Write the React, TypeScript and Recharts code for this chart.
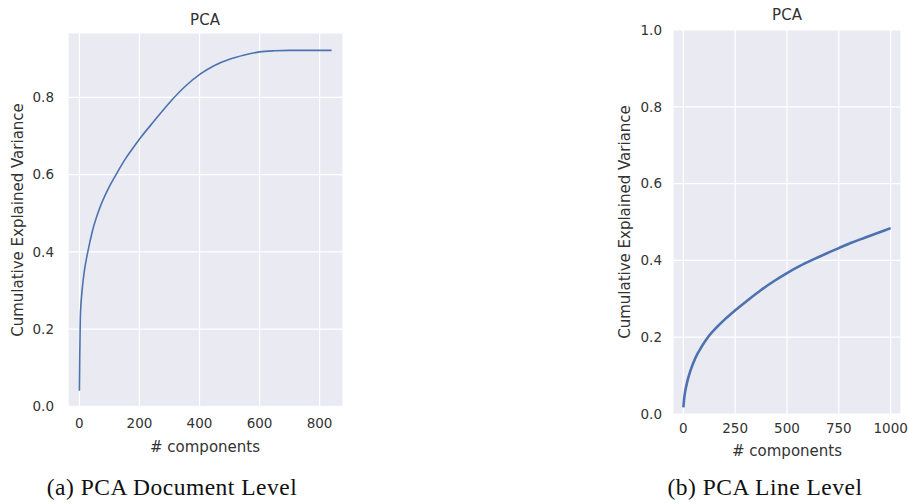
import React from 'react';
import { LineChart, Line, XAxis, YAxis, CartesianGrid } from 'recharts';

// (a) document level: cumulative explained variance vs # components
const docComponents = [0, 1, 3, 9, 17, 28, 44, 67, 94, 122, 150, 172, 201, 250, 303, 350, 403, 450, 500, 550, 600, 650, 700, 760, 840];
const docVariance = [0.04, 0.12, 0.23, 0.3, 0.353, 0.4, 0.456, 0.512, 0.56, 0.6, 0.637, 0.662, 0.693, 0.74, 0.789, 0.827, 0.861, 0.883, 0.899, 0.91, 0.918, 0.921, 0.922, 0.922, 0.922];
const docXTicks = [0, 200, 400, 600, 800];
const docYTicks = [0, 0.2, 0.4, 0.6, 0.8];

// (b) line level
const lineComponents = [0, 5, 17, 35, 58, 90, 123, 165, 205, 250, 310, 375, 440, 500, 560, 625, 690, 750, 810, 875, 940, 1000];
const lineVariance = [0.017, 0.045, 0.08, 0.114, 0.146, 0.177, 0.203, 0.228, 0.249, 0.27, 0.296, 0.323, 0.347, 0.367, 0.385, 0.402, 0.418, 0.432, 0.446, 0.459, 0.472, 0.484];
const lineXTicks = [0, 250, 500, 750, 1000];
const lineYTicks = [0, 0.2, 0.4, 0.6, 0.8, 1.0];

const SANS = '"DejaVu Sans", sans-serif';
const TEXT = '#333';

const toRows = (xs: number[], ys: number[]) => xs.map((c, i) => ({ components: c, variance: ys[i] }));

const Txt: React.FC<{ x: number; y: number; size: number; rotate?: boolean; serif?: boolean; children: React.ReactNode }> = ({ x, y, size, rotate, serif, children }) => (
  <div
    style={{
      position: 'absolute',
      left: x,
      top: y,
      transform: `translate(-50%, -50%)${rotate ? ' rotate(-90deg)' : ''}`,
      whiteSpace: 'nowrap',
      fontSize: size,
      fontFamily: serif ? '"Liberation Serif", serif' : SANS,
      letterSpacing: serif ? 0.5 : 0,
      color: serif ? '#111' : TEXT,
      lineHeight: 1,
    }}
  >
    {children}
  </div>
);

interface PanelProps {
  left: number;
  width: number;
  height: number;
  margin: { top: number; right: number; left: number; bottom: number };
  yAxisWidth: number;
  xAxisHeight: number;
  xDomain: [number, number];
  yDomain: [number, number];
  xTicks: number[];
  yTicks: number[];
  yTickMargin: number;
  xTickMargin: number;
  data: Array<{ components: number; variance: number }>;
  strokeWidth: number;
}

const Panel: React.FC<PanelProps> = (p) => (
  <div style={{ position: 'absolute', left: p.left, top: 0 }}>
    <LineChart width={p.width} height={p.height} data={p.data} margin={p.margin}>
      <CartesianGrid fill="#EAEAF2" stroke="#ffffff" strokeWidth={1.2} />
      <XAxis
        type="number"
        dataKey="components"
        domain={p.xDomain}
        ticks={p.xTicks}
        allowDataOverflow
        axisLine={false}
        tickLine={false}
        height={p.xAxisHeight}
        tickMargin={p.xTickMargin}
        tick={{ fontSize: 13.5, fill: TEXT, fontFamily: SANS }}
      />
      <YAxis
        type="number"
        domain={p.yDomain}
        ticks={p.yTicks}
        allowDataOverflow
        axisLine={false}
        tickLine={false}
        width={p.yAxisWidth}
        tickMargin={p.yTickMargin}
        tickFormatter={(v: number) => v.toFixed(1)}
        tick={{ fontSize: 13.5, fill: TEXT, fontFamily: SANS }}
      />
      <Line
        type="monotone"
        dataKey="variance"
        stroke="#4C72B0"
        strokeWidth={p.strokeWidth}
        dot={false}
        isAnimationActive={false}
      />
    </LineChart>
  </div>
);

export default function App() {
  return (
    <div style={{ position: 'absolute', left: 0, top: 0, width: 908, height: 503, background: '#fff', overflow: 'hidden' }}>
      <Panel
        left={0}
        width={360}
        height={470}
        margin={{ top: 33, right: 17, left: 0, bottom: 0 }}
        yAxisWidth={68}
        xAxisHeight={63}
        xDomain={[-38, 878]}
        yDomain={[-0.002, 0.967]}
        xTicks={docXTicks}
        yTicks={docYTicks}
        yTickMargin={8}
        xTickMargin={5}
        data={toRows(docComponents, docVariance)}
        strokeWidth={1.6}
      />
      <Panel
        left={600}
        width={308}
        height={470}
        margin={{ top: 30, right: 7, left: 0, bottom: 0 }}
        yAxisWidth={73}
        xAxisHeight={56}
        xDomain={[-50, 1050]}
        yDomain={[0, 1]}
        xTicks={lineXTicks}
        yTicks={lineYTicks}
        yTickMargin={5}
        xTickMargin={3}
        data={toRows(lineComponents, lineVariance)}
        strokeWidth={2.6}
      />

      <Txt x={205} y={20} size={15}>PCA</Txt>
      <Txt x={18} y={220} size={15} rotate>Cumulative Explained Variance</Txt>
      <Txt x={205} y={447} size={15}># components</Txt>

      <Txt x={787} y={15} size={15}>PCA</Txt>
      <Txt x={625} y={222} size={15} rotate>Cumulative Explained Variance</Txt>
      <Txt x={787} y={451} size={15}># components</Txt>

      <Txt x={172} y={488} size={23.5} serif>(a) PCA Document Level</Txt>
      <Txt x={765} y={488} size={23.5} serif>(b) PCA Line Level</Txt>
    </div>
  );
}
